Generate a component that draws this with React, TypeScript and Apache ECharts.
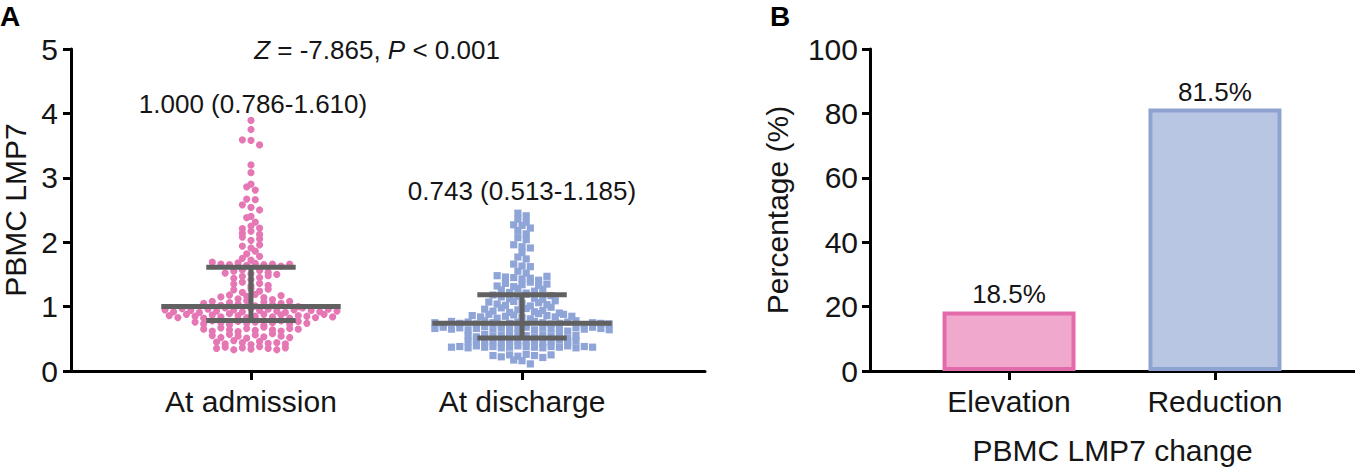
import React, { useEffect, useRef } from "react";
import * as echarts from "echarts";

// ---------- data ----------
const groupNames = ["At admission", "At discharge"];

const admissionValues = [
  3.89, 3.75, 3.59, 3.58, 3.51, 3.2, 3.08, 2.9, 2.86, 2.81, 2.67, 2.66, 2.58, 2.54, 2.5, 2.4, 2.38, 2.31,
  2.21, 2.25, 2.22, 2.14, 2.17, 2.12, 2.08, 2.03, 2.05, 1.94, 1.91, 1.96, 1.82, 1.86, 1.75, 1.72, 1.78,
  1.69, 1.66, 1.65, 1.68, 1.64, 1.67, 1.65, 1.66, 1.63, 1.66,
  1.52, 1.55, 1.57, 1.51, 1.56, 1.53, 1.5,
  1.44, 1.47, 1.42, 1.45, 1.48,
  1.35, 1.38, 1.32, 1.36, 1.33,
  1.26, 1.22, 1.28, 1.24, 1.27,
  1.15, 1.18, 1.12, 1.16, 1.19, 1.14, 1.11, 1.17,
  1.05, 1.08, 1.02, 1.06, 1.04, 1.09, 1.01, 1.07, 1.03, 1.05, 1.08, 1.0,
  0.95, 0.92, 0.97, 0.94, 0.91, 0.96, 0.93, 0.98, 0.95, 0.92, 0.97, 0.94, 0.96, 0.93, 0.91, 0.95, 0.98, 0.94, 0.92, 0.96, 0.93,
  0.86, 0.83, 0.88, 0.85, 0.82, 0.87, 0.84, 0.89, 0.86, 0.83, 0.85, 0.88, 0.84, 0.87, 0.82, 0.86, 0.85, 0.83, 0.88, 0.84,
  0.76, 0.73, 0.78, 0.75, 0.72, 0.77, 0.74, 0.76, 0.71, 0.75, 0.78, 0.73, 0.77, 0.74,
  0.65, 0.62, 0.67, 0.64, 0.61, 0.66, 0.63, 0.68, 0.64, 0.62, 0.66, 0.65,
  0.55, 0.52, 0.57, 0.54, 0.51, 0.56, 0.53, 0.58, 0.54, 0.52,
  0.45, 0.42, 0.47, 0.44, 0.41, 0.46, 0.43, 0.44, 0.42,
  0.35, 0.37, 0.33, 0.36, 0.34, 0.38, 0.35, 0.33, 0.36,
];

const dischargeValues = [
  2.45, 2.41, 2.36, 2.31, 2.27, 2.26, 2.22, 2.18, 2.13, 2.07, 2.04, 1.96, 1.93, 1.91, 1.84, 1.77, 1.74,
  1.66, 1.63, 1.62, 1.55, 1.52,
  1.48, 1.46, 1.45, 1.43, 1.44, 1.41, 1.47,
  1.32, 1.36, 1.31, 1.34, 1.38, 1.33, 1.35,
  1.26, 1.22, 1.28, 1.21, 1.24, 1.27,
  1.18, 1.15, 1.12, 1.16, 1.19, 1.13, 1.11, 1.17,
  1.07, 1.04, 1.02, 1.08, 1.05, 1.01, 1.06, 1.03, 1.09,
  0.96, 0.93, 0.98, 0.91, 0.95, 0.97, 0.92, 0.94, 0.99, 0.9,
  0.86, 0.84, 0.88, 0.82, 0.85, 0.87, 0.83, 0.81, 0.89, 0.86, 0.84, 0.88, 0.85,
  0.75, 0.72, 0.77, 0.74, 0.76, 0.73, 0.78, 0.75, 0.71, 0.74, 0.76, 0.72, 0.77, 0.75, 0.73, 0.74, 0.76, 0.78, 0.72, 0.75, 0.74, 0.73,
  0.66, 0.68, 0.65, 0.67, 0.64, 0.66, 0.69, 0.65, 0.67, 0.63, 0.66, 0.68, 0.64, 0.67, 0.65, 0.66, 0.62, 0.67, 0.65, 0.68, 0.66, 0.64,
  0.55, 0.53, 0.57, 0.54, 0.56, 0.52, 0.58, 0.55, 0.53, 0.56, 0.54, 0.57, 0.51, 0.55,
  0.46, 0.48, 0.45, 0.47, 0.44, 0.46, 0.48, 0.45, 0.47, 0.43, 0.46, 0.48, 0.45, 0.47,
  0.37, 0.38, 0.36, 0.39, 0.37, 0.38, 0.36, 0.37, 0.39, 0.38, 0.37, 0.36, 0.38, 0.37, 0.39, 0.36, 0.38, 0.37,
  0.24, 0.22, 0.25, 0.23, 0.26, 0.24, 0.21, 0.25,
  0.17, 0.16, 0.11,
];

const medians = [1.0, 0.743];
const lowerQuartiles = [0.786, 0.513];
const upperQuartiles = [1.61, 1.185];
const summaryLabels = ["1.000 (0.786-1.610)", "0.743 (0.513-1.185)"];

const changeCategories = ["Elevation", "Reduction"];
const changePercent = [18.5, 81.5];

// ---------- styles ----------
const FONT = "'Liberation Sans', Arial, Helvetica, sans-serif";
const TEXT = "#151515";
const PINK = "#E577B4";
const BLUE = "#8FA5D8";
const BAR_FILL = ["#F0A9CC", "#B9C6E3"];
const BAR_BORDER = ["#E46BAB", "#8EA3D2"];
const ERR = "#616161";

// beeswarm layout: bin by value, spread horizontally in each bin (pixel offsets)
function swarm(values: number[], xPos: number, binSize: number, spacing: number) {
  const bins = new Map<number, number[]>();
  values.forEach((v, i) => {
    const b = Math.floor(v / binSize + 1e-6);
    if (!bins.has(b)) bins.set(b, []);
    bins.get(b)!.push(i);
  });
  const items: any[] = [];
  bins.forEach((idxs) => {
    const n = idxs.length;
    idxs.forEach((idx, k) => {
      items.push({ value: [xPos, values[idx]], symbolOffset: [(k - (n - 1) / 2) * spacing, 0] });
    });
  });
  return items;
}

export default function App() {
  const ref = useRef<HTMLDivElement>(null);
  useEffect(() => {
    document.body.style.margin = "0";
    const chart = echarts.init(ref.current!, undefined, { renderer: "svg" });

    const axisLine = { show: true, onZero: false, lineStyle: { color: "#000", width: 3 } };
    const tickStyle = { color: "#000", width: 3 };

    const errData = medians.map((m, i) => [i + 1, m, lowerQuartiles[i], upperQuartiles[i]]);

    const option: any = {
      animation: false,
      grid: [
        { left: 71, right: 650, top: 49, bottom: 96, containLabel: false, outerBoundsMode: "none" },
        { left: 870, right: 0, top: 49, bottom: 96, containLabel: false, outerBoundsMode: "none" },
      ],
      xAxis: [
        {
          gridIndex: 0,
          type: "value",
          min: 0.336,
          max: 2.675,
          axisLine,
          splitLine: { show: false },
          axisTick: { show: true, customValues: [1, 2], length: 9, lineStyle: tickStyle },
          axisLabel: {
            customValues: [1, 2],
            formatter: (v: number) => groupNames[Math.round(v) - 1],
            fontSize: 30,
            fontFamily: FONT,
            color: TEXT,
            margin: 15,
          },
        },
        {
          gridIndex: 1,
          type: "value",
          min: 0.325,
          max: 2.68,
          axisLine,
          splitLine: { show: false },
          axisTick: { show: true, customValues: [1, 2], length: 9, lineStyle: tickStyle },
          axisLabel: {
            customValues: [1, 2],
            formatter: (v: number) => changeCategories[Math.round(v) - 1],
            fontSize: 30,
            fontFamily: FONT,
            color: TEXT,
            margin: 15,
          },
          name: "PBMC LMP7 change",
          nameLocation: "middle",
          nameGap: 64,
          nameTextStyle: { fontSize: 30, fontFamily: FONT, color: TEXT },
        },
      ],
      yAxis: [
        {
          gridIndex: 0,
          type: "value",
          min: 0,
          max: 5,
          interval: 1,
          axisLine,
          splitLine: { show: false },
          axisTick: { show: true, length: 8, lineStyle: tickStyle },
          axisLabel: { fontSize: 30, fontFamily: FONT, color: TEXT, margin: 13 },
          name: "PBMC LMP7",
          nameLocation: "middle",
          nameGap: 44,
          nameTextStyle: { fontSize: 30, lineHeight: 24, fontFamily: FONT, color: TEXT },
        },
        {
          gridIndex: 1,
          type: "value",
          min: 0,
          max: 100,
          interval: 20,
          axisLine,
          splitLine: { show: false },
          axisTick: { show: true, length: 8, lineStyle: tickStyle },
          axisLabel: { fontSize: 30, fontFamily: FONT, color: TEXT, margin: 12 },
          name: "Percentage (%)",
          nameLocation: "middle",
          nameGap: 78,
          nameTextStyle: { fontSize: 30, fontFamily: FONT, color: TEXT },
        },
      ],
      series: [
        {
          type: "scatter",
          xAxisIndex: 0,
          yAxisIndex: 0,
          symbol: "circle",
          symbolSize: 7.2,
          itemStyle: { color: PINK, opacity: 1 },
          data: swarm(admissionValues, 1, 0.1, 8.6),
          z: 2,
        },
        {
          type: "scatter",
          xAxisIndex: 0,
          yAxisIndex: 0,
          symbol: "rect",
          symbolSize: 7.2,
          itemStyle: { color: BLUE, opacity: 1 },
          data: swarm(dischargeValues, 2, 0.1, 8.3),
          z: 2,
        },
        {
          type: "custom",
          xAxisIndex: 0,
          yAxisIndex: 0,
          z: 5,
          data: errData,
          encode: { x: 0, y: [1, 2, 3] },
          renderItem: (params: any, api: any) => {
            const x = api.value(0);
            const m = api.value(1);
            const lo = api.value(2);
            const hi = api.value(3);
            const style = { stroke: ERR, lineWidth: 5, fill: null };
            const seg = (a: number[], b: number[]) => {
              const p1 = api.coord(a);
              const p2 = api.coord(b);
              return { type: "line", shape: { x1: p1[0], y1: p1[1], x2: p2[0], y2: p2[1] }, style };
            };
            return {
              type: "group",
              children: [
                seg([x, lo], [x, hi]),
                seg([x - 0.331, m], [x + 0.331, m]),
                seg([x - 0.165, lo], [x + 0.165, lo]),
                seg([x - 0.165, hi], [x + 0.165, hi]),
              ],
            };
          },
        },
        {
          type: "bar",
          xAxisIndex: 1,
          yAxisIndex: 1,
          barWidth: 133,
          data: changePercent.map((v, i) => ({
            value: [i + 1, v],
            itemStyle: { color: BAR_FILL[i], borderColor: BAR_BORDER[i], borderWidth: 4 },
          })),
          label: {
            show: true,
            position: "top",
            distance: 4,
            formatter: (p: any) => p.value[1] + "%",
            fontSize: 26,
            fontFamily: FONT,
            color: TEXT,
          },
        },
      ],
      graphic: [
        { type: "text", left: 0, top: 2, style: { text: "A", fontSize: 28, fontWeight: "bold", fontFamily: FONT, fill: "#000" } },
        { type: "text", left: 770, top: 2, style: { text: "B", fontSize: 28, fontWeight: "bold", fontFamily: FONT, fill: "#000" } },
        {
          type: "text",
          x: 377,
          y: 50,
          style: {
            text: "{i|Z} = -7.865, {i|P} < 0.001",
            fontSize: 26,
            fontFamily: FONT,
            fill: TEXT,
            align: "center",
            verticalAlign: "middle",
            rich: { i: { fontStyle: "italic", fontSize: 26, fontFamily: FONT, fill: TEXT } },
          },
        },
        {
          type: "text",
          x: 253,
          y: 104,
          style: { text: summaryLabels[0], fontSize: 26, fontFamily: FONT, fill: TEXT, align: "center", verticalAlign: "middle" },
        },
        {
          type: "text",
          x: 522,
          y: 191,
          style: { text: summaryLabels[1], fontSize: 26, fontFamily: FONT, fill: TEXT, align: "center", verticalAlign: "middle" },
        },
      ],
    };
    chart.setOption(option);
    return () => chart.dispose();
  }, []);
  return <div ref={ref} style={{ position: "fixed", left: 0, top: 0, width: 1355, height: 467, background: "#fff" }} />;
}
